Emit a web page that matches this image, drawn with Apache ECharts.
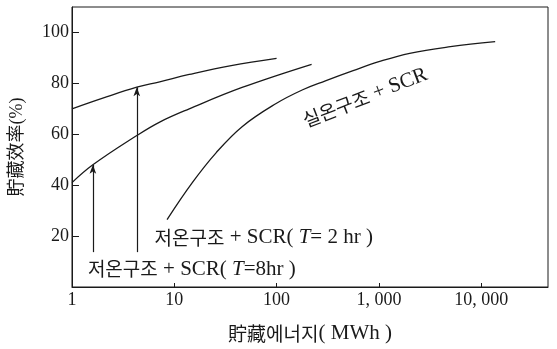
<!DOCTYPE html>
<html>
<head>
<meta charset="utf-8">
<script src="https://cdn.jsdelivr.net/npm/echarts@6/dist/echarts.min.js"></script>
<style>
  html, body { margin: 0; padding: 0; background: #fff; }
  #chart { width: 557px; height: 349px; }
</style>
</head>
<body>
<div id="chart"></div>
<script>
// Storage efficiency (%) against stored energy (MWh), log energy axis.
const lowTemp8hrEnergy = [1, 2, 4.3, 7.2, 14, 36, 100];
const lowTemp8hrEff    = [70, 74.2, 78.5, 80.6, 83.5, 87, 89.8];

const lowTemp2hrEnergy = [1, 1.6, 4.3, 7.2, 14, 46, 220];
const lowTemp2hrEff    = [41, 48, 59.5, 64.8, 70, 78.4, 87.5];

const roomTempEnergy = [8.5, 15, 25.6, 46, 98, 180, 300, 560, 1000, 2000, 5000, 13700];
const roomTempEff    = [26.5, 41, 52.7, 63, 72, 77.5, 81, 85, 88.5, 91.8, 94.4, 96.4];

// arrows pointing from the labels up to the curves
const arrowEnergy = [1.6, 4.3];
const arrowFrom   = [13.7, 13.7];
const arrowTo     = [48, 78.5];

const yTicks = [20, 40, 60, 80, 100];

const SERIF = "'Liberation Serif', serif";
const HANGUL = "'Noto Sans CJK KR', sans-serif";
const FONT = "'Liberation Serif', 'Noto Sans CJK KR', serif";
const INK = '#1a1a1a';

function pairs(xs, ys) { return xs.map((x, i) => [x, ys[i]]); }

function fmtEnergy(v) {
  const s = String(Math.round(v));
  if (s.length <= 3) return s;
  return s.slice(0, s.length - 3) + ', ' + s.slice(s.length - 3);
}

// mixed-script label pieces: hangul in the CJK face, latin in serif
const labelRich = {
  k: { fontFamily: HANGUL, fontSize: 19, color: INK },
  n: { fontFamily: SERIF, fontSize: 21, color: INK },
  i: { fontFamily: SERIF, fontSize: 21, color: INK, fontStyle: 'italic' }
};

const lineStyle = { color: INK, width: 1.3 };

const chart = echarts.init(document.getElementById('chart'), null, { renderer: 'canvas' });

chart.setOption({
  animation: false,
  backgroundColor: '#fff',
  grid: {
    left: 67, right: 9, top: 7, bottom: 61,
    show: true, borderColor: INK, borderWidth: 1
  },
  xAxis: {
    type: 'log',
    logBase: 10,
    min: 1,
    max: 45000,
    name: '{k|貯藏에너지}{n|( MWh )}',
    nameLocation: 'middle',
    nameGap: 36,
    nameTextStyle: {
      rich: {
        k: { fontFamily: HANGUL, fontSize: 19, color: INK },
        n: { fontFamily: SERIF, fontSize: 21, color: INK }
      }
    },
    axisLine: { lineStyle: { color: INK, width: 1 } },
    axisTick: { inside: true, length: 4, lineStyle: { color: INK } },
    minorTick: { show: false },
    splitLine: { show: false },
    axisLabel: {
      fontFamily: SERIF, fontSize: 18, color: INK, margin: 4,
      showMaxLabel: false,
      formatter: fmtEnergy
    }
  },
  yAxis: {
    type: 'value',
    min: 0,
    max: 110,
    interval: 20,
    name: '貯藏效率(%)',
    nameLocation: 'middle',
    nameGap: 46,
    nameTextStyle: { fontFamily: FONT, fontSize: 18, color: INK },
    axisLine: { lineStyle: { color: INK, width: 1 } },
    axisTick: { inside: true, length: 7, lineStyle: { color: INK } },
    splitLine: { show: false },
    axisLabel: {
      fontFamily: SERIF, fontSize: 18, color: INK, margin: 3,
      showMaxLabel: false,
      formatter: v => (yTicks.indexOf(v) >= 0 ? String(v) : '')
    }
  },
  series: [
    {
      type: 'line', name: '저온구조+SCR(T=8hr)',
      data: pairs(lowTemp8hrEnergy, lowTemp8hrEff),
      smooth: 0.4, symbol: 'none', lineStyle,
      markPoint: {
        symbol: 'circle', symbolSize: 0,
        data: [{
          coord: [1.43, 7],
          label: {
            show: true, position: 'right', distance: 0,
            formatter: '{k|저온구조}{n| + SCR( }{i|T}{n|=8hr )}',
            rich: labelRich
          }
        }]
      }
    },
    {
      type: 'line', name: '저온구조+SCR(T=2hr)',
      data: pairs(lowTemp2hrEnergy, lowTemp2hrEff),
      smooth: 0.4, symbol: 'none', lineStyle,
      markPoint: {
        symbol: 'circle', symbolSize: 0,
        data: [{
          coord: [6.4, 19.5],
          label: {
            show: true, position: 'right', distance: 0,
            formatter: '{k|저온구조}{n| + SCR( }{i|T}{n|= 2 hr )}',
            rich: labelRich
          }
        }]
      }
    },
    {
      type: 'line', name: '실온구조+SCR',
      data: pairs(roomTempEnergy, roomTempEff),
      smooth: 0.4, symbol: 'none', lineStyle,
      markPoint: {
        symbol: 'circle', symbolSize: 0,
        data: [{
          coord: [731, 74.5],
          label: {
            show: true, position: 'inside', rotate: 21,
            formatter: '{k|실온구조}{n| + SCR}',
            rich: labelRich
          }
        }]
      },
      markLine: {
        silent: true,
        symbol: ['none', 'arrow'],
        symbolSize: [5, 9],
        label: { show: false },
        lineStyle: { color: INK, width: 1.2, type: 'solid' },
        data: arrowEnergy.map((e, i) => [
          { coord: [e, arrowFrom[i]] },
          { coord: [e, arrowTo[i]] }
        ])
      }
    }
  ]
});
</script>
</body>
</html>
